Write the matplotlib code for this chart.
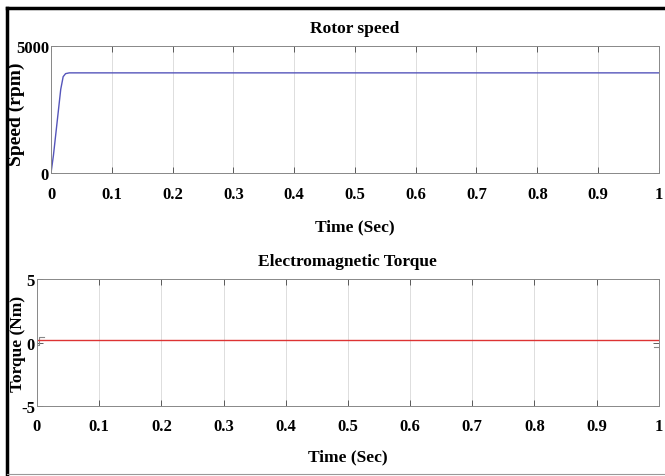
import matplotlib.pyplot as plt
from matplotlib.lines import Line2D

# rotor speed (rpm) against time (s)
speed_t = [0.0, 0.004, 0.01, 0.016, 0.02, 0.024, 0.03, 0.04, 0.1, 0.5, 1.0]
speed_v = [0, 700, 2000, 3300, 3800, 3920, 3950, 3950, 3950, 3950, 3950]

# electromagnetic torque (Nm)
torque_t = [0.0, 0.002, 0.01, 0.1, 0.5, 0.99, 1.0]
torque_v = [0.2, 0.2, 0.2, 0.2, 0.2, 0.2, 0.2]
# small transients at start and end (grey trace)
ripple_start_t = [0.0, 0.003, 0.003, 0.012]
ripple_start_v = [-0.2, -0.2, 0.4, 0.4]
ripple_end_t = [0.992, 1.0]
ripple_end_v = [-0.35, -0.35]

xticks = [0, 0.1, 0.2, 0.3, 0.4, 0.5, 0.6, 0.7, 0.8, 0.9, 1]
xticklabels = ['0', '0.1', '0.2', '0.3', '0.4', '0.5', '0.6', '0.7', '0.8', '0.9', '1']

plt.rcParams['font.family'] = ['Liberation Serif', 'DejaVu Serif']
plt.rcParams['font.weight'] = 'bold'
plt.rcParams['axes.unicode_minus'] = False

fig = plt.figure(figsize=(6.65, 4.77), dpi=100)

def styleAxes(ax, ylim, yticks, ypad):
	ax.set_xlim(0, 1)
	ax.set_ylim(*ylim)
	ax.set_xticks(xticks)
	ax.set_xticklabels(xticklabels)
	ax.set_yticks(yticks)
	ax.grid(axis='x', color='#d8d8d8', linewidth=0.6)
	ax.tick_params(direction='in', top=True, right=True, length=4, width=0.6,
		color='#444444', labelsize=12)
	ax.tick_params(axis='x', pad=9)
	ax.tick_params(axis='y', pad=ypad)
	for s in ax.spines.values():
		s.set_color('#888888')
		s.set_linewidth(0.7)

ax1 = fig.add_axes([0.0767, 0.635, 0.914, 0.266])
ax1.plot(speed_t, speed_v, color='#5555bb', linewidth=1.0)
styleAxes(ax1, (0, 5000), [0, 5000], 1.5)
ax1.text(0.5, 1.14, 'Rotor speed', transform=ax1.transAxes, ha='center', va='center',
	fontsize=12.5, fontweight='bold')
ax1.set_ylabel('Speed (rpm)', fontsize=14, fontweight='bold', va='center')
ax1.yaxis.set_label_coords(-0.057, 0.47)
ax1.set_xlabel('Time (Sec)', fontsize=12.5, fontweight='bold', va='center')
ax1.xaxis.set_label_coords(0.5, -0.42)

ax2 = fig.add_axes([0.0556, 0.1468, 0.935, 0.266])
ax2.plot(ripple_start_t, ripple_start_v, color='#888888', linewidth=0.8)
ax2.plot(ripple_end_t, ripple_end_v, color='#888888', linewidth=0.8)
ax2.plot(torque_t, torque_v, color='#dd3333', linewidth=1.0)
styleAxes(ax2, (-5, 5), [-5, 0, 5], 1.5)
ax2.text(0.5, 1.142, 'Electromagnetic Torque', transform=ax2.transAxes, ha='center', va='center',
	fontsize=12.5, fontweight='bold')
ax2.set_ylabel('Torque (Nm)', fontsize=12.5, fontweight='bold', va='center')
ax2.yaxis.set_label_coords(-0.031, 0.5)
ax2.set_xlabel('Time (Sec)', fontsize=12.5, fontweight='bold', va='center')
ax2.xaxis.set_label_coords(0.5, -0.40)

# frame around the figure
fig.add_artist(Line2D([7 / 665, 7 / 665], [0, 1 - 9 / 477], color='black', linewidth=2.5))
fig.add_artist(Line2D([7 / 665, 1], [1 - 9 / 477, 1 - 9 / 477], color='black', linewidth=2.5))
fig.add_artist(Line2D([7 / 665, 1], [1 - 475 / 477, 1 - 475 / 477], color='#999999', linewidth=0.8))

fig.savefig('out.png', dpi=100)
